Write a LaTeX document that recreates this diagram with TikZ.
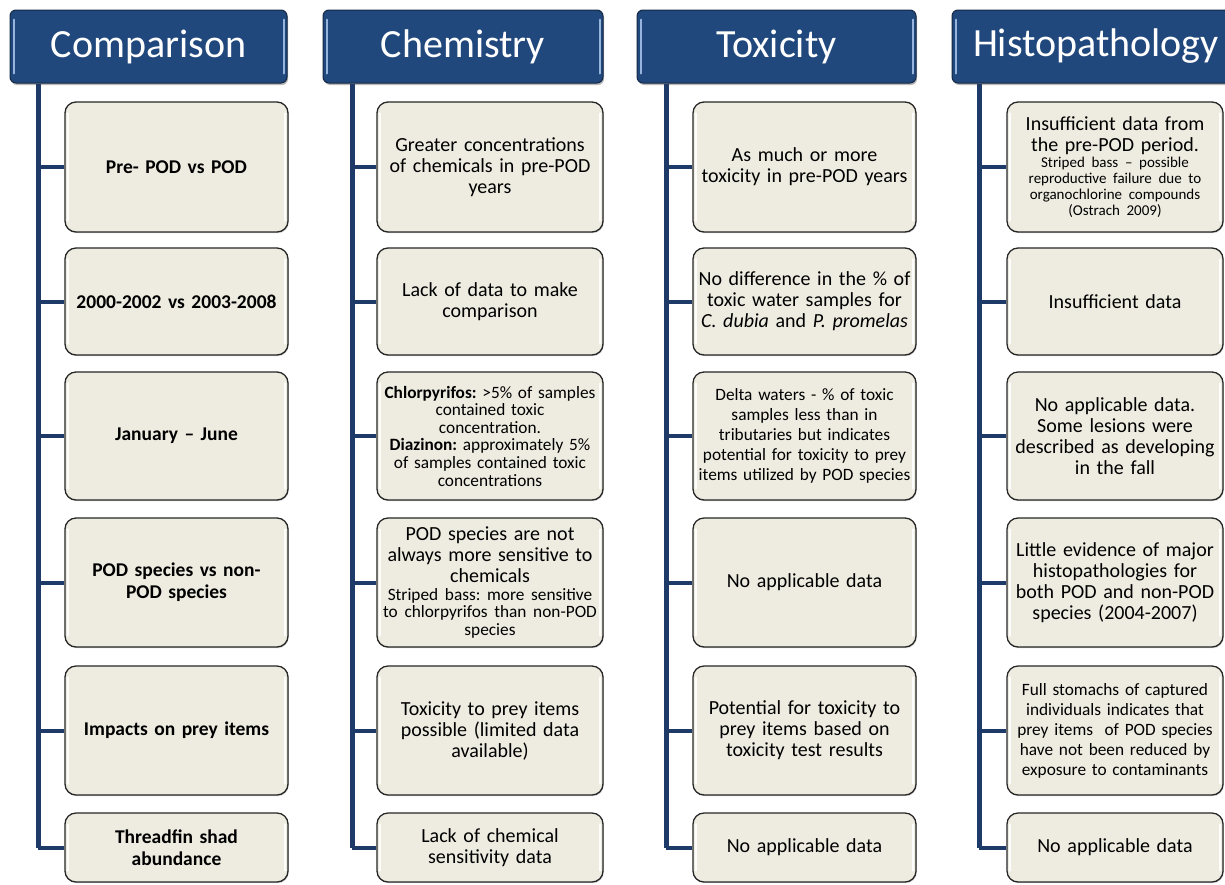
\documentclass[tikz,border=0pt]{standalone}
\usepackage{fontspec}
\setmainfont{Carlito}
\frenchspacing
\usetikzlibrary{shadows}
\definecolor{hdrfill}{RGB}{33,72,124}
\definecolor{hdrline}{RGB}{20,40,70}
\definecolor{hdrhl}{RGB}{150,180,220}
\definecolor{boxfill}{RGB}{238,236,225}
\definecolor{conncol}{RGB}{30,58,105}
\tikzset{
  hdr/.style={draw=hdrline, line width=1pt, fill=hdrfill, rounded corners=6pt,
    text=white, font=\fontsize{40}{44}\selectfont, inner sep=0pt,
    drop shadow={shadow xshift=1pt, shadow yshift=-2pt, opacity=0.55}},
  cbox/.style={draw=black!85, line width=1.3pt, fill=boxfill, rounded corners=11pt,
    align=center, inner sep=0pt, font=\fontsize{20}{21}\selectfont,
    drop shadow={shadow xshift=0.8pt, shadow yshift=-1.2pt, opacity=0.35}},
  bold/.style={font=\bfseries\fontsize{19.5}{22}\selectfont},
  small/.style={font=\fontsize{17.3}{17.6}\selectfont},
  smallb/.style={font=\fontsize{17.3}{20}\selectfont},
  vline/.style={draw=conncol, line width=5pt},
  hline/.style={draw=conncol, line width=4pt},
  hhl/.style={draw=hdrhl, line width=2pt, line cap=round},
  bhl/.style={draw=white, line width=2pt, line cap=round, opacity=0.9},
}
\newcommand\mkbox[7]{%
  \node[cbox, #6, minimum width={#3pt-#2pt}, minimum height={#5pt-#4pt}, text width={#3pt-#2pt-4pt}]
    (#1) at ({(#2+#3)/2},{(#4+#5)/2}) {#7};
  \draw[bhl] ([xshift=4pt,yshift=-12pt]#1.north west) -- ([xshift=4pt,yshift=12pt]#1.south west);
  \draw[bhl] ([xshift=-4pt,yshift=-12pt]#1.north east) -- ([xshift=-4pt,yshift=12pt]#1.south east);
}
\newcommand\mkhdr[4]{%
  \node[hdr, minimum width={#3pt-#2pt}, minimum height=73pt] (#1) at ({(#2+#3)/2},46.5) {#4};
  \draw[hhl] ([xshift=4pt,yshift=-10pt]#1.north west) -- ([xshift=4pt,yshift=10pt]#1.south west);
  \draw[hhl] ([xshift=-4pt,yshift=-10pt]#1.north east) -- ([xshift=-4pt,yshift=10pt]#1.south east);
}
\begin{document}
\begin{tikzpicture}[x=1pt,y=-1pt]
\clip (0,0) rectangle (1225,884);
\fill[white] (0,0) rectangle (1225,884);

% headers
\mkhdr{h1}{10}{287}{Comparison}
\mkhdr{h2}{323}{603}{Chemistry}
\mkhdr{h3}{637}{916}{Toxicity}
\mkhdr{h4}{952}{1240}{Histopathology}

% vertical spine coordinates
\coordinate (v1) at (38,84);
\coordinate (v2) at (352,84);
\coordinate (v3) at (666,84);
\coordinate (v4) at (979,84);

% column 1
\mkbox{a1}{65}{288}{102}{232}{bold}{Pre- POD vs POD}
\mkbox{a2}{65}{288}{248}{355}{bold}{2000-2002 vs 2003-2008}
\mkbox{a3}{65}{288}{372}{500}{bold}{January -- June}
\mkbox{a4}{65}{288}{518}{647}{bold}{POD species vs non-\\POD species}
\mkbox{a5}{65}{288}{666}{795}{bold}{Impacts on prey items}
\mkbox{a6}{65}{288}{813}{882}{bold}{Threadfin shad\\abundance}

% column 2
\mkbox{b1}{377}{603}{102}{232}{}{Greater concentrations\\of chemicals in pre-POD\\years}
\mkbox{b2}{377}{603}{248}{355}{}{Lack of data to make\\comparison}
\mkbox{b3}{377}{603}{372}{500}{small}{\textbf{Chlorpyrifos:} >5\% of samples\\contained toxic\\concentration.\\\textbf{Diazinon:} approximately 5\%\\of samples contained toxic\\concentrations}
\mkbox{b4}{377}{603}{518}{647}{}{POD species are not\\always more sensitive to\\chemicals\\{\fontsize{17.3}{17.6}\selectfont Striped bass: more sensitive\\to chlorpyrifos than non-POD\\species\par}}
\mkbox{b5}{377}{603}{666}{795}{}{Toxicity to prey items\\possible (limited data\\available)}
\mkbox{b6}{377}{603}{813}{882}{}{Lack of chemical\\sensitivity data}

% column 3
\mkbox{c1}{693}{916}{102}{232}{}{As much or more\\toxicity in pre-POD years}
\mkbox{c2}{693}{916}{248}{355}{}{No difference in the \% of\\toxic water samples for\\\textit{C. dubia} and \textit{P. promelas}}
\mkbox{c3}{693}{916}{372}{500}{smallb}{Delta waters - \% of toxic\\samples less than in\\tributaries but indicates\\potential for toxicity to prey\\items utilized by POD species}
\mkbox{c4}{693}{916}{518}{647}{}{No applicable data}
\mkbox{c5}{693}{916}{666}{795}{}{Potential for toxicity to\\prey items based on\\toxicity test results}
\mkbox{c6}{693}{916}{813}{882}{}{No applicable data}

% column 4
\mkbox{d1}{1007}{1223}{102}{232}{}{Insufficient data from\\the pre-POD period.\\{\fontsize{15}{16}\selectfont Striped bass -- possible\\reproductive failure due to\\organochlorine compounds\\(Ostrach 2009)\par}}
\mkbox{d2}{1007}{1223}{248}{355}{}{Insufficient data}
\mkbox{d3}{1007}{1223}{372}{500}{}{No applicable data.\\Some lesions were\\described as developing\\in the fall}
\mkbox{d4}{1007}{1223}{518}{647}{}{Little evidence of major\\histopathologies for\\both POD and non-POD\\species (2004-2007)}
\mkbox{d5}{1007}{1223}{666}{795}{smallb}{Full stomachs of captured\\individuals indicates that\\prey items~ of POD species\\have not been reduced by\\exposure to contaminants}
\mkbox{d6}{1007}{1223}{813}{882}{}{No applicable data}

% connectors
\foreach \col/\v in {a/v1,b/v2,c/v3,d/v4}{
  \draw[vline] (\v) -- (\v |- \col6.west);
  \foreach \r in {1,...,6}{
    \draw[hline] (\v |- \col\r.west) -- (\col\r.west);
  }
}
\end{tikzpicture}
\end{document}
